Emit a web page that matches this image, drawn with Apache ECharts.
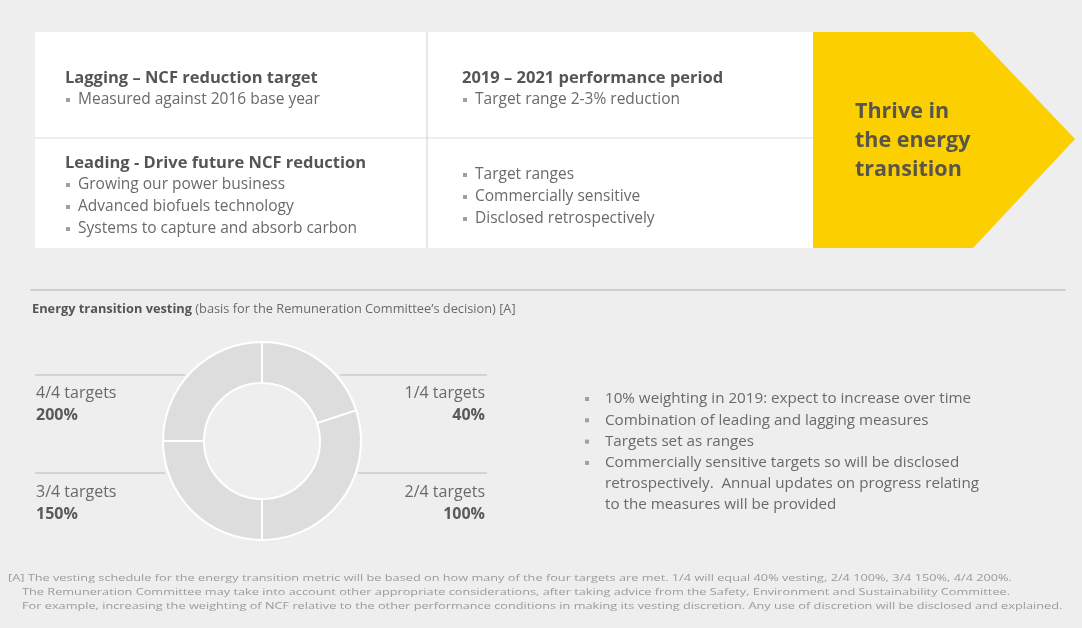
<!DOCTYPE html>
<html>
<head>
<meta charset="utf-8">
<script src="https://cdn.jsdelivr.net/npm/echarts@6/dist/echarts.min.js"></script>
<style>
  html, body { margin: 0; padding: 0; background: #eeeeee; }
  #main { width: 1082px; height: 628px; }
</style>
</head>
<body>
<div id="main"></div>
<script>
// donut data (share of the ring, clockwise from 12 o'clock)
var targets = ['1/4 targets', '2/4 targets', '3/4 targets', '4/4 targets']
var vesting = ['40%', '100%', '150%', '200%']
var shares = [20, 30, 25, 25]

// texts of the boxes
var laggingTitle = 'Lagging – NCF reduction target'
var laggingItems = ['Measured against 2016 base year']
var leadingTitle = 'Leading - Drive future NCF reduction'
var leadingItems = ['Growing our power business', 'Advanced biofuels technology', 'Systems to capture and absorb carbon']
var periodTitle = '2019 – 2021 performance period'
var periodItems = ['Target range 2-3% reduction']
var leadingNotes = ['Target ranges', 'Commercially sensitive', 'Disclosed retrospectively']
var arrowText = 'Thrive in\nthe energy\ntransition'
var notes = [
  '10% weighting in 2019: expect to increase over time',
  'Combination of leading and lagging measures',
  'Targets set as ranges',
  'Commercially sensitive targets so will be disclosed',
  'retrospectively.  Annual updates on progress relating',
  'to the measures will be provided'
]
var footnote = [
  '[A] The vesting schedule for the energy transition metric will be based on how many of the four targets are met. 1/4 will equal 40% vesting, 2/4 100%, 3/4 150%, 4/4 200%.',
  'The Remuneration Committee may take into account other appropriate considerations, after taking advice from the Safety, Environment and Sustainability Committee.',
  'For example, increasing the weighting of NCF relative to the other performance conditions in making its vesting discretion. Any use of discretion will be disclosed and explained.'
]

var FONT = '"Open Sans", Lato, sans-serif'

function txt (x, y, s, size, opt) {
  opt = opt || {}
  return {
    type: 'text', x: x, y: y, silent: true,
    scaleX: opt.scaleX || 1,
    style: {
      text: s, fontFamily: FONT, fontSize: size,
      fontWeight: opt.bold ? 'bold' : 'normal',
      fill: opt.color || '#6a6a6a',
      align: opt.align || 'left', verticalAlign: 'middle',
      lineHeight: opt.lineHeight
    }
  }
}

function bullets (x, y, items, step, size, gap) {
  var out = []
  items.forEach(function (s, i) {
    out.push({ type: 'rect', silent: true, shape: { x: x, y: y + i * step - 2, width: 4, height: 4 }, style: { fill: '#a0a0a0' } })
    out.push(txt(x + (gap || 12), y + i * step, s, size))
  })
  return out
}

function hline (x1, x2, y, color) {
  return { type: 'line', silent: true, shape: { x1: x1, y1: y, x2: x2, y2: y }, style: { stroke: color || '#b8b8b8', lineWidth: 1 } }
}

var g = []
// white table
g.push({ type: 'rect', silent: true, shape: { x: 35, y: 32, width: 780, height: 216 }, style: { fill: '#ffffff' } })
g.push(hline(35, 815, 138, '#dedede'))
g.push({ type: 'line', silent: true, shape: { x1: 427, y1: 32, x2: 427, y2: 248 }, style: { stroke: '#d0d0d0', lineWidth: 1 } })
// yellow arrow
g.push({ type: 'polygon', silent: true, shape: { points: [[813, 32], [973, 32], [1075, 139], [973, 248], [813, 248]] }, style: { fill: '#fcd000' } })
g.push(txt(855, 141, arrowText, 21.5, { bold: true, color: '#58554a', lineHeight: 29 }))

g.push(txt(65, 78, laggingTitle, 16.5, { bold: true, color: '#555' }))
g = g.concat(bullets(66, 100, laggingItems, 22, 15.5))
g.push(txt(65, 163, leadingTitle, 16.5, { bold: true, color: '#555' }))
g = g.concat(bullets(66, 185, leadingItems, 22, 15.5))
g.push(txt(462, 78, periodTitle, 16.5, { bold: true, color: '#555' }))
g = g.concat(bullets(463, 100, periodItems, 22, 15.5))
g = g.concat(bullets(463, 175, leadingNotes, 22, 15.5))

// lower section
g.push(hline(30, 1066, 290, '#b0b0b0'))
g.push({
  type: 'text', x: 32, y: 309, silent: true,
  style: {
    text: '{b|Energy transition vesting} (basis for the Remuneration Committee\u2019s decision) [A]',
    fontFamily: FONT, fontSize: 12.8, fill: '#6a6a6a', verticalAlign: 'middle',
    rich: { b: { fontFamily: FONT, fontSize: 12.8, fontWeight: 'bold', fill: '#555' } }
  }
})

// leader lines around the donut
g.push(hline(35, 185, 375))
g.push(hline(340, 487, 375))
g.push(hline(35, 165, 473))
g.push(hline(358, 487, 473))

// donut labels: right side 1/4, 2/4; left side 3/4, 4/4
var labelPos = [[485, 393, 'right'], [485, 492, 'right'], [36, 492, 'left'], [36, 393, 'left']]
targets.forEach(function (t, i) {
  var p = labelPos[i]
  g.push(txt(p[0], p[1], t, 16, { align: p[2] }))
  g.push(txt(p[0], p[1] + 22, vesting[i], 16, { align: p[2], bold: true, color: '#5a5a5a' }))
})

g = g.concat(bullets(585, 399, notes.slice(0, 4), 21.3, 15.2, 20))
g.push(txt(605, 484, notes[4], 15.2))
g.push(txt(605, 505, notes[5], 15.2))

// footnote
g.push(txt(8, 578, footnote[0], 9.3, { color: '#9a9a9a', scaleX: 1.37 }))
g.push(txt(22, 592, footnote[1], 9.3, { color: '#9a9a9a', scaleX: 1.37 }))
g.push(txt(22, 606, footnote[2], 9.3, { color: '#9a9a9a', scaleX: 1.37 }))

var chart = echarts.init(document.getElementById('main'))
chart.setOption({
  backgroundColor: '#eeeeee',
  animation: false,
  graphic: g,
  series: [
    {
      type: 'pie',
      center: [262, 441],
      radius: [58, 99],
      startAngle: 90,
      clockwise: true,
      silent: true,
      label: { show: false },
      labelLine: { show: false },
      itemStyle: { color: '#dddddd', borderColor: '#ffffff', borderWidth: 2 },
      data: targets.map(function (t, i) { return { name: t, value: shares[i] } })
    }
  ]
})
</script>
</body>
</html>
